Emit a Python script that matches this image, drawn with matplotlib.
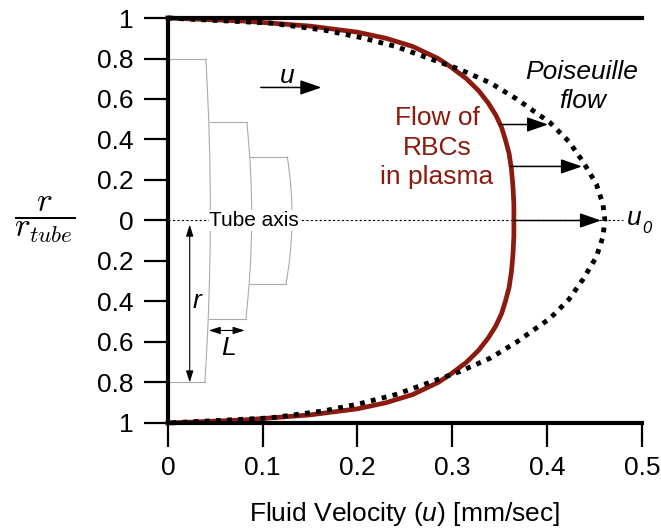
import numpy as np
import matplotlib
matplotlib.use('Agg')
import matplotlib.pyplot as plt
from matplotlib.path import Path
from matplotlib.patches import PathPatch

plt.rcParams['font.family'] = ['Liberation Sans', 'DejaVu Sans']
plt.rcParams['mathtext.fontset'] = 'custom'
plt.rcParams['mathtext.rm'] = 'Liberation Sans'
plt.rcParams['mathtext.it'] = 'Liberation Sans:italic'

# upper half of each profile (r/r_tube from the wall down to the axis), mirrored below
r_pois = [1.0, 0.975, 0.94, 0.904, 0.86, 0.805, 0.746, 0.68, 0.60, 0.54, 0.484, 0.39,
          0.29, 0.18, 0.08, 0.0]
u_pois = [0.0, 0.108, 0.165, 0.203, 0.240, 0.273, 0.308, 0.340, 0.368, 0.386, 0.403, 0.423,
          0.438, 0.452, 0.459, 0.461]

r_rbc = [1.0, 0.985, 0.96, 0.93, 0.90, 0.86, 0.80, 0.76, 0.70, 0.64, 0.58, 0.52, 0.46,
         0.40, 0.33, 0.25, 0.17, 0.08, 0.0]
u_rbc = [0.0, 0.08, 0.150, 0.200, 0.230, 0.258, 0.285, 0.298, 0.315, 0.328, 0.338, 0.346,
         0.352, 0.356, 0.360, 0.3625, 0.364, 0.365, 0.365]

# levels of the arrows between the two profiles
r_arrows = [0.474, 0.267, 0.0]

# stacked cylinders sketch: half height, left edge, right edge top, bulge, right edge bottom
cyl_r = [0.8, 0.484, 0.316]
cyl_left = [0.0, 0.0443, 0.0870]
cyl_right_top = [0.0400, 0.0833, 0.1259]
cyl_mid = [0.0448, 0.0884, 0.1310]
cyl_right_bot = [0.0390, 0.0823, 0.1245]
cyl_left_bot = [0.0, 0.0433, 0.0865]

xticks = [0, 0.1, 0.2, 0.3, 0.4, 0.5]
xlabels = ['0', '0.1', '0.2', '0.3', '0.4', '0.5']
yticks = [-1, -0.8, -0.6, -0.4, -0.2, 0, 0.2, 0.4, 0.6, 0.8, 1]
ylabels = ['1', '0.8', '0.6', '0.4', '0.2', '0', '0.2', '0.4', '0.6', '0.8', '1']

red = '#8c1a0e'


def full(r, u):
    r = np.array(r)
    u = np.array(u)
    return np.concatenate([r, -r[::-1][1:]]), np.concatenate([u, u[::-1][1:]])


fig = plt.figure(figsize=(6.61, 5.31), dpi=100)
ax = fig.add_axes([0.254, 0.2034, 0.717, 0.7627])

# sketch of the cylinders
for i in range(len(cyl_r)):
    h = cyl_r[i]
    ax.plot([cyl_left[i], cyl_right_top[i]], [h, h], color='#aaaaaa', lw=0.8, zorder=1)
    ax.plot([cyl_left_bot[i], cyl_right_bot[i]], [-h, -h], color='#aaaaaa', lw=0.8, zorder=1)
    ctrl = 2 * cyl_mid[i] - 0.5 * (cyl_right_top[i] + cyl_right_bot[i])
    path = Path([(cyl_right_top[i], h), (ctrl, 0), (cyl_right_bot[i], -h)],
                [Path.MOVETO, Path.CURVE3, Path.CURVE3])
    ax.add_patch(PathPatch(path, fc='none', ec='#aaaaaa', lw=0.8, zorder=1))

# tube axis
ax.plot([0, 0.48], [0, 0], color='k', lw=0.8, ls=(0, (2, 2)), zorder=1.5)
ax.text(0.091, 0, 'Tube axis', fontsize=15, ha='center', va='center', zorder=3,
        bbox=dict(fc='white', ec='none', pad=0.5))

rp, up = full(r_pois, u_pois)
rr, ur = full(r_rbc, u_rbc)
ax.plot(ur, rr, color=red, lw=3.4, zorder=2, clip_on=False, solid_joinstyle='round')
ax.plot(up, rp, color='k', lw=3.5, ls=(0, (1, 1.3)), zorder=2.2, clip_on=False)

# arrows from the RBC profile to the Poiseuille profile
big = dict(arrowstyle='-|>,head_length=1.3,head_width=0.45', color='k', lw=1.1,
           shrinkA=0, shrinkB=0, mutation_scale=10)
for lev in r_arrows:
    x0 = np.interp(lev, r_rbc[::-1], u_rbc[::-1])
    x1 = np.interp(lev, r_pois[::-1], u_pois[::-1]) - 0.004
    ax.annotate('', xy=(x1, lev), xytext=(x0, lev), arrowprops=big, zorder=3)

ax.annotate('', xy=(0.162, 0.657), xytext=(0.098, 0.657), arrowprops=big, zorder=3)
ax.text(0.126, 0.715, '$u$', fontsize=19, ha='center', va='center')

small = dict(arrowstyle='<|-|>,head_length=0.7,head_width=0.22', color='k', lw=0.8,
             shrinkA=0, shrinkB=0, mutation_scale=10)
ax.annotate('', xy=(0.023, -0.8), xytext=(0.023, -0.02), arrowprops=small, zorder=3)
ax.text(0.032, -0.40, '$r$', fontsize=19, ha='center', va='center')
ax.annotate('', xy=(0.081, -0.543), xytext=(0.043, -0.543), arrowprops=small, zorder=3)
ax.text(0.064, -0.63, '$L$', fontsize=19, ha='center', va='center')

ax.text(0.284, 0.36, 'Flow of\nRBCs\nin plasma', color=red, fontsize=19,
        ha='center', va='center', linespacing=1.3)
ax.text(0.437, 0.66, 'Poiseuille\nflow', fontsize=19, style='italic',
        ha='center', va='center', linespacing=1.25)
ax.text(0.484, 0.01, 'u', fontsize=19, style='italic', ha='left', va='center')
ax.annotate('0', xy=(0.484, 0), xytext=(11, -6), textcoords='offset points',
            fontsize=12, style='italic', ha='left', va='center')

ax.set_xlim(0, 0.5)
ax.set_ylim(-1, 1)
ax.set_xticks(xticks)
ax.set_xticklabels(xlabels)
ax.set_yticks(yticks)
ax.set_yticklabels(ylabels)
ax.tick_params(axis='both', length=17, width=1.6, labelsize=19, color='k')
ax.tick_params(axis='y', pad=8)
ax.tick_params(axis='x', pad=7)
for s in ['left', 'top', 'bottom']:
    ax.spines[s].set_linewidth(3)
    ax.spines[s].set_zorder(4)
ax.spines['right'].set_visible(False)

ax.set_xlabel('Fluid Velocity ($u$) [mm/sec]', fontsize=19, labelpad=14)
fig.text(0.068, 0.586, r'$\dfrac{r}{r_{tube}}$', fontsize=24, math_fontfamily='cm',
         ha='center', va='center')

fig.savefig('out.png', dpi=100)
